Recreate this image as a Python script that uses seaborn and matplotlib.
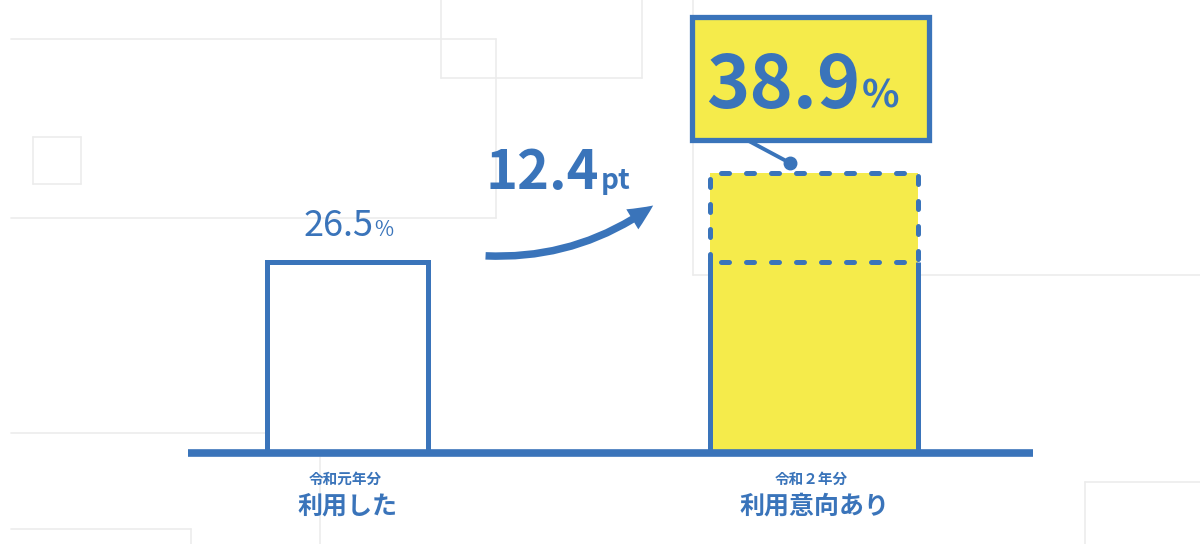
import numpy as np
import pandas as pd
import matplotlib
matplotlib.use("Agg")
import matplotlib.pyplot as plt
import seaborn as sns
from matplotlib.patches import Rectangle, FancyArrowPatch
from matplotlib.lines import Line2D

# data
categories = ["利用した", "利用意向あり"]
years = ["令和元年分", "令和２年分"]
values = [26.5, 38.9]
diff_label = "12.4"

BLUE = "#3a74ba"
YELLOW = "#f5eb4b"
FAINT = "#ececec"

sns.set_theme(style="white")
plt.rcParams["font.family"] = ["Noto Sans CJK JP", "DejaVu Sans"]

W, H = 1200, 544
fig = plt.figure(figsize=(12, 5.44), dpi=100)
fig.patch.set_facecolor("white")

# faint decoration lines (pixel coords, y from top)
def px_line(x0, y0, x1, y1):
    fig.add_artist(Line2D([x0 / W, x1 / W], [1 - y0 / H, 1 - y1 / H],
                          transform=fig.transFigure, color=FAINT, lw=1.2, zorder=0))

for seg in [(11, 39, 496, 39), (496, 39, 496, 218), (11, 218, 496, 218),
            (33, 137, 81, 137), (81, 137, 81, 184), (33, 184, 81, 184), (33, 137, 33, 184),
            (441, 0, 441, 78), (441, 78, 642, 78), (642, 0, 642, 78),
            (693, 0, 693, 275), (693, 275, 1200, 275),
            (11, 433, 300, 433), (11, 529, 191, 529), (191, 529, 191, 544),
            (320, 457, 320, 544), (1085, 482, 1200, 482), (1085, 482, 1085, 544)]:
    px_line(*seg)

ax = fig.add_axes([0, 0, 1, 1])
ax.patch.set_alpha(0)

df = pd.DataFrame({"category": categories, "value": values})
sns.barplot(data=df, x="category", y="value", hue="category", saturation=1,
            palette=["white", YELLOW], legend=False, ax=ax, zorder=2)

# pixel mapping: category 0 at x=347.5, category 1 at x=814; baseline at y=453
px_per_cat = 466.5
px_per_unit = 7.2
ax.set_xlim(-347.5 / px_per_cat, (W - 347.5) / px_per_cat)
ax.set_ylim(-(H - 453) / px_per_unit, 453 / px_per_unit)
ax.axis("off")

widths = [161 / px_per_cat, 208 / px_per_cat]
bars = ax.patches[:2]
for i, (p, w) in enumerate(zip(bars, widths)):
    p.set_width(w)
    p.set_x(i - w / 2)
    p.set_edgecolor("none")
    p.set_linewidth(0)

lw = 3.6
# left bar outline
w0 = widths[0]
ax.plot([-w0 / 2, -w0 / 2, w0 / 2, w0 / 2], [0, values[0], values[0], 0],
        color=BLUE, lw=lw, solid_joinstyle="miter", zorder=3)

# right bar: solid sides up to previous value, dashed box above
w1 = widths[1]
l, r = 1 - w1 / 2, 1 + w1 / 2
ax.vlines([l, r], 0, values[0], color=BLUE, lw=lw, zorder=3)
ax.plot([l, l, r, r, l], [values[0], values[1], values[1], values[0], values[0]],
        color=BLUE, lw=lw, linestyle=(0, (1.6, 3.4)), dash_capstyle="round", zorder=3)

# baseline
ax.hlines(0, (188 - 347.5) / px_per_cat, (1033 - 347.5) / px_per_cat,
          color=BLUE, lw=5.5, zorder=4)

# value label for left bar
ax.text(0.055, values[0] + 3.7, f"{values[0]}", ha="right", va="baseline",
        fontsize=26, color=BLUE)
ax.text(0.057, values[0] + 3.7, "%", ha="left", va="baseline", fontsize=15, color=BLUE)

# curved arrow
arrow = FancyArrowPatch((0.29, 27.4), (0.66, 34.6),
                        connectionstyle="arc3,rad=0.18",
                        arrowstyle="simple,head_width=1.4,head_length=1.5,tail_width=0.45",
                        mutation_scale=12, color=BLUE, lw=0, zorder=5)
ax.add_patch(arrow)
ax.text(0.539, 36.6, diff_label, ha="right", va="baseline",
        fontsize=39, fontweight="bold", color=BLUE)
ax.text(0.543, 36.6, "pt", ha="left", va="baseline",
        fontsize=20, fontweight="bold", color=BLUE)

# callout box for right value
bx0 = (692 - 347.5) / px_per_cat
bx1 = (929 - 347.5) / px_per_cat
by0 = (453 - 140) / px_per_unit
by1 = (453 - 17) / px_per_unit
ax.add_patch(Rectangle((bx0, by0), bx1 - bx0, by1 - by0, facecolor=YELLOW,
                       edgecolor=BLUE, lw=3.8, zorder=5))
dot = ((790 - 347.5) / px_per_cat, (453 - 163) / px_per_unit)
ax.plot([(747 - 347.5) / px_per_cat, dot[0]], [by0, dot[1]], color=BLUE, lw=2.8, zorder=4)
ax.plot([dot[0]], [dot[1]], "o", color=BLUE, ms=9, zorder=4)
ax.text((860 - 347.5) / px_per_cat, (453 - 108) / px_per_unit, f"{values[1]}",
        ha="right", va="baseline", fontsize=53, fontweight="bold", color=BLUE, zorder=6)
ax.text((862 - 347.5) / px_per_cat, (453 - 108) / px_per_unit, "%",
        ha="left", va="baseline", fontsize=28, fontweight="bold", color=BLUE, zorder=6)

# category labels
for i, (yr, cat) in enumerate(zip(years, categories)):
    ax.text(i - 0.005, (453 - 479) / px_per_unit, yr, ha="center", va="center",
            fontsize=10.5, fontweight="bold", color=BLUE)
    ax.text(i, (453 - 507) / px_per_unit, cat, ha="center", va="center",
            fontsize=18, fontweight="bold", color=BLUE)

fig.savefig("out.png", dpi=100)
